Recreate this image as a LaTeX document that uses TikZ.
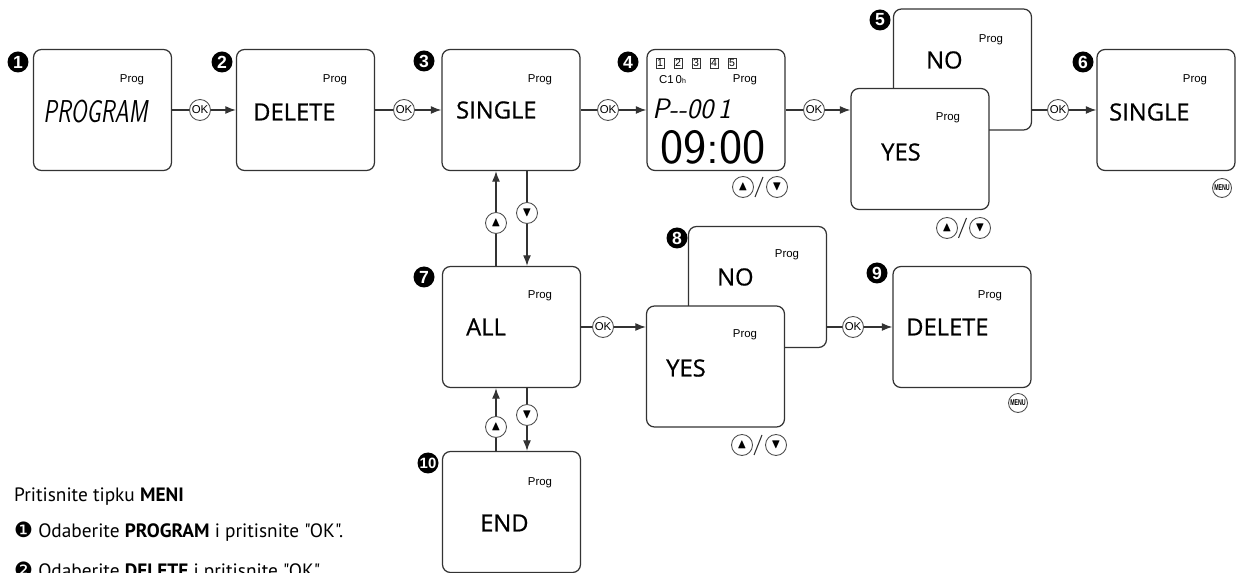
\documentclass[tikz,border=0pt]{standalone}
\usepackage{amsmath}
\usepackage{amssymb}
\usepackage{fontspec}
\setmainfont{Open Sans}
\newfontfamily\smallfont{Liberation Sans}
\newfontfamily\notefont{PT Sans}
\newfontfamily\symfont{DejaVu Sans}
\usetikzlibrary{arrows.meta,calc}

\begin{document}
\begin{tikzpicture}[x=0.02cm,y=-0.02cm,
  screen/.style={draw=black!80,line width=0.7pt,rounded corners=4.5pt,fill=white,minimum width=2.76cm,minimum height=2.42cm,inner sep=0},
  badge/.style={circle,fill=black,text=white,minimum size=0.42cm,inner sep=0,font=\smallfont\bfseries\fontsize{10}{10}\selectfont},
  key/.style={circle,draw=black!70,line width=0.5pt,fill=white,minimum size=0.42cm,inner sep=0,font=\fontsize{7.5}{7.5}\selectfont},
  okkey/.style={key,font=\smallfont\fontsize{6.5}{6.5}\selectfont},
  menukey/.style={key,minimum size=0.38cm,font=\smallfont\bfseries\fontsize{4}{4}\selectfont},
  prog/.style={font=\smallfont\fontsize{6.5}{7}\selectfont},
  word/.style={anchor=west,font=\addfontfeatures{FakeBold=0.7}\fontsize{13.5}{14}\selectfont},
  lcd/.style={anchor=west,inner sep=0,font=\sffamily\itshape},
  sq/.style={draw=black!80,line width=0.4pt,minimum width=0.16cm,minimum height=0.2cm,inner sep=0,font=\smallfont\fontsize{6}{6}\selectfont},
  note/.style={anchor=west,font=\notefont\fontsize{11}{13}\selectfont},
  wire/.style={draw=black!80,line width=0.7pt},
  >={Latex[length=6pt,width=4.5pt]}]

\useasboundingbox (0,0) rectangle (1237,573);

% screens
\node[screen] (s1) at (102.5,110) {};
\node[screen] (s2) at (305.5,110) {};
\node[screen] (s3) at (511,110) {};
\node[screen] (s4) at (716,110) {};
\node[screen] (s5n) at (962.5,69.5) {};
\node[screen] (s5y) at (920,149) {};
\node[screen] (s6) at (1166,110) {};
\node[screen] (s7) at (511.5,327) {};
\node[screen] (s8n) at (757.5,287) {};
\node[screen] (s8y) at (715.5,366.5) {};
\node[screen] (s9) at (962,327) {};
\node[screen] (s10) at (511.5,512) {};

\node[badge] (b1) at (18,62) {1};
\node[badge] (b2) at (222,62) {2};
\node[badge] (b3) at (424,61) {3};
\node[badge] (b4) at (628,62) {4};
\node[badge] (b5) at (880,20) {5};
\node[badge] (b6) at (1083,62) {6};
\node[badge] (b7) at (424,277) {7};
\node[badge] (b8) at (677,238) {8};
\node[badge] (b9) at (877,273) {9};
\node[badge,font=\smallfont\bfseries\fontsize{8.5}{8.5}\selectfont] (b10) at (428,463) {10};

\node[prog] (p1) at (132,80) {Prog};
\node[prog] (p2) at (335,80) {Prog};
\node[prog] (p3) at (540,80) {Prog};
\node[prog] (p4) at (745,80) {Prog};
\node[prog] (p5n) at (991,40) {Prog};
\node[prog] (p5y) at (948,118) {Prog};
\node[prog] (p6) at (1195,80) {Prog};
\node[prog] (p7) at (540,296) {Prog};
\node[prog] (p8n) at (787,255) {Prog};
\node[prog] (p8y) at (745,335) {Prog};
\node[prog] (p9) at (990,296) {Prog};
\node[prog] (p10) at (540,483) {Prog};

\node[lcd] (t1) at (43,112) {\fontsize{18}{18}\selectfont\scalebox{0.72}[1]{PROGRAM}};
\node[word] (t2) at (247,112) {DELETE};
\node[word] (t3) at (450,110) {SINGLE};
\node[word] (t5n) at (920,60) {NO};
\node[word] (t5y) at (875,152) {YES};
\node[word] (t6) at (1103,112) {SINGLE};
\node[word] (t7) at (460,327) {ALL};
\node[word] (t8n) at (711,277) {NO};
\node[word] (t8y) at (660,368) {YES};
\node[word] (t9) at (900,327) {DELETE};
\node[word] (t10) at (474,523) {END};

% clock display
\foreach \n [count=\i from 0] in {1,...,5}
  \node[sq] (q\n) at (660+18*\i,63) {\n};
\node[prog,anchor=west] (c4) at (653,80) {C1\,0{\fontsize{4}{4}\selectfont h}};
\node[lcd] (pp4) at (652,109) {\fontsize{16}{16}\selectfont P-{}-00\,1};
\node[anchor=west,inner sep=0,font=\sffamily\fontsize{28}{28}\selectfont] (clk4) at (660,147) {09:00};

% keys
\node[okkey] (ok1) at (200,110) {OK};
\node[okkey] (ok2) at (404,110) {OK};
\node[okkey] (ok3) at (608,110) {OK};
\node[okkey] (ok4) at (814,110) {OK};
\node[okkey] (ok5) at (1058,110) {OK};
\node[okkey] (ok7) at (603,327) {OK};
\node[okkey] (ok8) at (853,327) {OK};

\node[key] (k4u) at (743,187) {$\blacktriangle$};
\node[key] (k4d) at (777,187) {$\blacktriangledown$};
\node[key] (k5u) at (947,228) {$\blacktriangle$};
\node[key] (k5d) at (980,228) {$\blacktriangledown$};
\node[key] (k8u) at (742,445) {$\blacktriangle$};
\node[key] (k8d) at (776,445) {$\blacktriangledown$};
\foreach \k in {4,5,8}
  \draw[wire,line width=0.6pt] ($(k\k u)!.5!(k\k d)+(-5,10)$) -- ($(k\k u)!.5!(k\k d)+(3,-10)$);

\node[menukey] (m6) at (1222,188) {\scalebox{0.75}[1.2]{MENU}};
\node[menukey] (m9) at (1018,403) {\scalebox{0.75}[1.2]{MENU}};

\node[key] (up3) at (496,223) {$\blacktriangle$};
\node[key] (dn3) at (527,213) {$\blacktriangledown$};
\node[key] (up7) at (496,427) {$\blacktriangle$};
\node[key] (dn7) at (527,415) {$\blacktriangledown$};

% connectors
\draw[wire] (s1) -- (ok1);
\draw[wire,->] (ok1) -- (s2);
\draw[wire] (s2) -- (ok2);
\draw[wire,->] (ok2) -- (s3);
\draw[wire] (s3) -- (ok3);
\draw[wire,->] (ok3) -- (s4);
\draw[wire] (s4) -- (ok4);
\draw[wire,->] (ok4) -- (ok4 -| s5y.west);
\draw[wire] (s5n.east |- ok5) -- (ok5);
\draw[wire,->] (ok5) -- (s6);
\draw[wire] (s7) -- (ok7);
\draw[wire,->] (ok7) -- (ok7 -| s8y.west);
\draw[wire] (s8n.east |- ok8) -- (ok8);
\draw[wire,->] (ok8) -- (s9);

\draw[wire] (s7.north -| up3) -- (up3);
\draw[wire,->] (up3) -- (s3.south -| up3);
\draw[wire] (s3.south -| dn3) -- (dn3);
\draw[wire,->] (dn3) -- (s7.north -| dn3);
\draw[wire] (s10.north -| up7) -- (up7);
\draw[wire,->] (up7) -- (s7.south -| up7);
\draw[wire] (s7.south -| dn7) -- (dn7);
\draw[wire,->] (dn7) -- (s10.north -| dn7);

% notes
\node[note] (n0) at (8,497) {Pritisnite tipku \textbf{MENI}};
\node[note] (n1) at (8,532) {{\symfont\fontsize{12}{12}\selectfont ❶} Odaberite \textbf{PROGRAM} i pritisnite "OK".};
\node[note] (n2) at (8,572) {{\symfont\fontsize{12}{12}\selectfont ❷} Odaberite \textbf{DELETE} i pritisnite "OK".};
\end{tikzpicture}
\end{document}
